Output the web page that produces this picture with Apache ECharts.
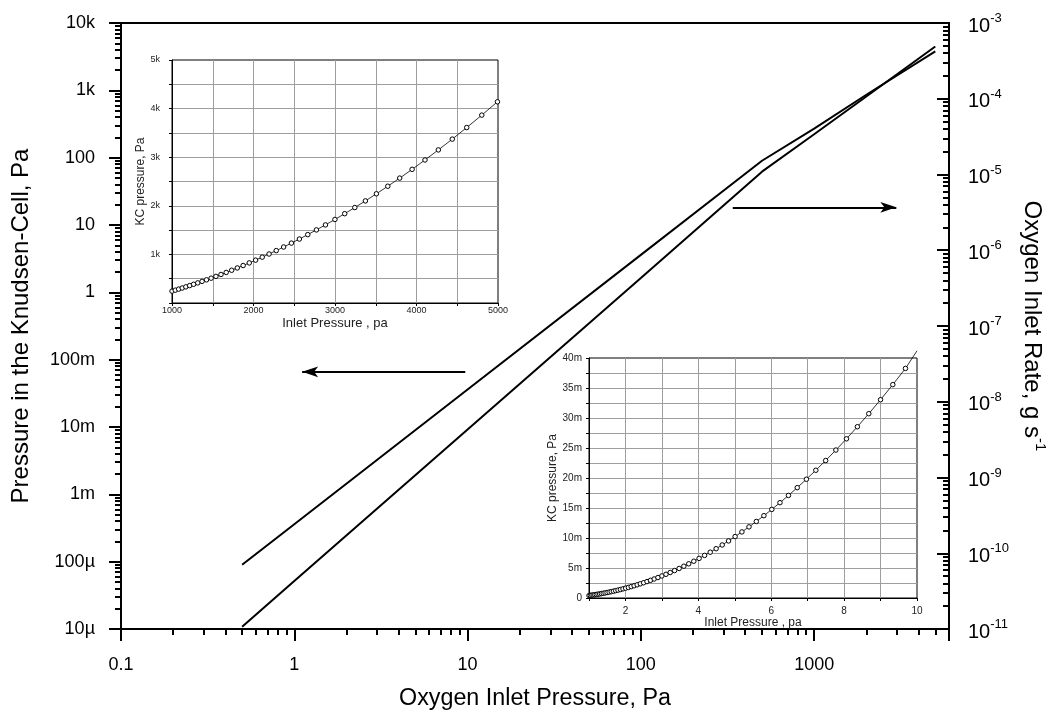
<!DOCTYPE html>
<html><head><meta charset="utf-8">
<script src="https://cdn.jsdelivr.net/npm/echarts@6.0.0/dist/echarts.min.js"></script>
<style>html,body{margin:0;padding:0;background:#fff}#chart{width:1063px;height:715px}</style>
</head><body><div id="chart"></div>
<script>
const FONT = "'Liberation Sans', Arial, Helvetica, sans-serif";

// ---- main chart data (log-log) ----
const mainInletPressure = [0.5, 1, 10, 100, 500, 1000, 2000, 5000];
const mainKcPressure    = [9e-5, 3.6e-4, 0.036, 3.6, 90, 270, 860, 3800];
const mainInletRate     = [1.07e-11, 4.3e-11, 4.3e-9, 4.3e-7, 1.09e-5, 3.4e-5, 1.07e-4, 4.9e-4];

// ---- main tick labels ----
const xTickExponents = [-1, 0, 1, 2, 3];
const xTickLabels = ['0.1', '1', '10', '100', '1000'];
const leftTickExponents = [-5, -4, -3, -2, -1, 0, 1, 2, 3, 4];
const leftTickLabels = ['10µ', '100µ', '1m', '10m', '100m', '1', '10', '100', '1k', '10k'];
const rightTickExponents = [-11, -10, -9, -8, -7, -6, -5, -4, -3];
const rightTickLabels = ['-11', '-10', '-9', '-8', '-7', '-6', '-5', '-4', '-3'];
const minorMultipliers = [2, 3, 4, 5, 6, 7, 8, 9];

// ---- arrows (data coordinates) ----
const leftArrowStart = [9.7, 0.066];
const leftArrowEnd = [1.11, 0.066];
const rightArrowStart = [339, 3.69e-6];
const rightArrowEnd = [2980, 3.69e-6];

// ---- inset 1 (upper left) ----
const inset1InletPressure = [1000,1040,1082,1125,1170,1217,1265,1316,1369,1423,1480,1539,1601,1665,1732,1801,1873,1948,2026,2107,2191,2279,2370,2465,2563,2666,2772,2883,2999,3119,3243,3373,3508,3648,3794,3946,4104,4268,4439,4616,4801,4993];
const inset1KcPressure = [244,264,286,308,332,358,385,414,445,477,511,548,587,629,674,721,771,825,882,943,1008,1078,1152,1232,1316,1407,1504,1607,1719,1838,1964,2101,2247,2403,2570,2750,2943,3150,3372,3610,3866,4140];
const inset1CurveEnd = [5165, 4390];
const inset1XLabelValues = [1000, 2000, 3000, 4000, 5000];
const inset1XLabels = ['1000', '2000', '3000', '4000', '5000'];
const inset1YLabelValues = [1000, 2000, 3000, 4000, 5000];
const inset1YLabels = ['1k', '2k', '3k', '4k', '5k'];

// ---- inset 2 (lower right), KC pressure in mPa ----
const inset2InletPressure = [1.000,1.037,1.076,1.116,1.158,1.201,1.246,1.292,1.340,1.390,1.442,1.496,1.552,1.610,1.670,1.732,1.796,1.864,1.933,2.005,2.080,2.158,2.238,2.322,2.408,2.498,2.591,2.688,2.788,2.892,3.000,3.112,3.228,3.348,3.473,3.603,3.737,3.876,4.021,4.171,4.326,4.488,4.655,4.829,5.009,5.196,5.390,5.591,5.799,6.016,6.240,6.473,6.714,6.965,7.224,7.494,7.774,8.064,8.364,8.677,9.000,9.336,9.684];
const inset2KcMilliPa = [0.408,0.439,0.472,0.508,0.547,0.589,0.633,0.681,0.733,0.788,0.848,0.913,0.983,1.058,1.138,1.224,1.316,1.418,1.524,1.640,1.765,1.900,2.044,2.200,2.366,2.546,2.739,2.948,3.171,3.412,3.672,3.951,4.251,4.573,4.921,5.297,5.698,6.130,6.597,7.098,7.635,8.218,8.841,9.514,10.237,11.015,11.853,12.754,13.720,14.766,15.887,17.095,18.392,19.793,21.292,22.913,24.657,26.531,28.542,30.718,33.048,35.562,38.262];
const inset2CurveEnd = [10, 41.2];
const inset2XLabelValues = [2, 4, 6, 8, 10];
const inset2XLabels = ['2', '4', '6', '8', '10'];
const inset2YLabelValues = [0, 5, 10, 15, 20, 25, 30, 35, 40];
const inset2YLabels = ['0', '5m', '10m', '15m', '20m', '25m', '30m', '35m', '40m'];

// ---- helpers ----
const X_MIN = 0.1, X_MAX = 6000, L_MIN = 1e-5, L_MAX = 1e4, R_MIN = 1e-11, R_MAX = 1e-3;
function decadeLabel(v, exps, labels) {
  const l = Math.log10(v), e = Math.round(l);
  if (Math.abs(l - e) > 1e-6) return '';
  const i = exps.indexOf(e);
  return i < 0 ? '' : labels[i];
}
function minorTicks(lo, hi) {
  const out = [];
  for (let e = Math.floor(lo); e < hi; e++) {
    for (const m of minorMultipliers) {
      const v = e + Math.log10(m);
      if (v > lo + 1e-9 && v < hi - 1e-9) out.push(v);
    }
  }
  return out;
}
function pick(v, vals, labels) {
  for (let i = 0; i < vals.length; i++) if (Math.abs(vals[i] - v) < 1e-9) return labels[i];
  return '';
}
const pairs = (xs, ys) => xs.map((x, i) => [x, ys[i]]);

const black = '#000';
const gridGray = '#9e9e9e';
const mainTick = { show: true, length: 12, lineStyle: { color: black, width: 2 } };
const minorTickStyle = { color: black, width: 2 };
const hidden = { show: false };

const insetAxisCommon = {
  type: 'value',
  axisLine: { onZero: false, lineStyle: { color: black, width: 1 } },
  axisTick: { show: true, length: 3, lineStyle: { color: black, width: 1 } },
  splitLine: { show: true, showMinLine: false, showMaxLine: false, lineStyle: { color: gridGray, width: 1 } },
  nameLocation: 'middle'
};

const chart = echarts.init(document.getElementById('chart'), null, { renderer: 'canvas' });
chart.setOption({
  animation: false,
  backgroundColor: '#fff',
  textStyle: { fontFamily: FONT },
  grid: [
    { left: 121, top: 23, width: 828, height: 606, show: true, borderColor: black, borderWidth: 2, backgroundColor: 'transparent', outerBoundsMode: 'none', containLabel: false },
    { left: 172, top: 60, width: 326, height: 243, show: true, borderColor: black, borderWidth: 1, backgroundColor: '#fff', outerBoundsMode: 'none', containLabel: false },
    { left: 589, top: 358, width: 328, height: 240, show: true, borderColor: black, borderWidth: 1, backgroundColor: '#fff', outerBoundsMode: 'none', containLabel: false }
  ],
  xAxis: [
    { // 0 main log x
      gridIndex: 0, type: 'log', logBase: 10, min: X_MIN, max: X_MAX, splitNumber: 5, position: 'bottom',
      axisLine: { onZero: false, lineStyle: { color: black, width: 2 } },
      axisTick: mainTick,
      minorTick: hidden, splitLine: hidden,
      axisLabel: { fontSize: 18, color: black, fontFamily: FONT, margin: 27, showMinLabel: true, showMaxLabel: true,
        formatter: v => decadeLabel(v, xTickExponents, xTickLabels) },
      name: 'Oxygen Inlet Pressure, Pa', nameLocation: 'middle', nameGap: 58, nameMoveOverlap: false,
      nameTextStyle: { fontSize: 23.3, color: black, fontFamily: FONT }
    },
    { // 1 main minor ticks overlay
      gridIndex: 0, type: 'value', min: -1, max: Math.log10(X_MAX), position: 'bottom',
      axisLine: { show: false, onZero: false }, axisLabel: hidden, splitLine: hidden,
      axisTick: { show: true, length: 6, lineStyle: minorTickStyle, customValues: minorTicks(-1, Math.log10(X_MAX)) }
    },
    Object.assign({}, insetAxisCommon, { // 2 inset1 x
      gridIndex: 1, min: 1000, max: 5000, interval: 500,
      axisLabel: { fontSize: 9, color: '#222', fontFamily: FONT, margin: 3, formatter: v => pick(v, inset1XLabelValues, inset1XLabels) },
      name: 'Inlet Pressure , pa', nameGap: 14, nameTextStyle: { fontSize: 13, color: '#222', fontFamily: FONT }
    }),
    Object.assign({}, insetAxisCommon, { // 3 inset2 x
      gridIndex: 2, min: 1, max: 10, interval: 1,
      axisLabel: { fontSize: 10, color: '#222', fontFamily: FONT, margin: 8, formatter: v => pick(v, inset2XLabelValues, inset2XLabels) },
      name: 'Inlet Pressure , pa', nameGap: 17, nameTextStyle: { fontSize: 12, color: '#222', fontFamily: FONT }
    })
  ],
  yAxis: [
    { // 0 main left log
      gridIndex: 0, type: 'log', logBase: 10, min: L_MIN, max: L_MAX, splitNumber: 9, position: 'left',
      axisLine: { onZero: false, lineStyle: { color: black, width: 2 } },
      axisTick: mainTick, minorTick: hidden, splitLine: hidden,
      axisLabel: { fontSize: 18, color: black, fontFamily: FONT, margin: 26, showMinLabel: true, showMaxLabel: true,
        formatter: v => decadeLabel(v, leftTickExponents, leftTickLabels) },
      name: 'Pressure in the Knudsen-Cell, Pa', nameLocation: 'middle', nameRotate: 90, nameGap: 88,
      nameTextStyle: { fontSize: 24, color: black, fontFamily: FONT }
    },
    { // 1 main right log
      gridIndex: 0, type: 'log', logBase: 10, min: R_MIN, max: R_MAX, splitNumber: 8, position: 'right',
      axisLine: { onZero: false, lineStyle: { color: black, width: 2 } },
      axisTick: { show: true, inside: true, length: 12, lineStyle: { color: black, width: 2 } },
      minorTick: hidden, splitLine: hidden,
      axisLabel: { margin: 19, showMinLabel: true, showMaxLabel: true,
        formatter: v => { const s = decadeLabel(v, rightTickExponents, rightTickLabels); return s ? '{b|10}{s|' + s + '}' : ''; },
        rich: {
          b: { fontSize: 20, color: black, fontFamily: FONT, lineHeight: 22, padding: [6, 0, 0, 0] },
          s: { fontSize: 13, color: black, fontFamily: FONT, lineHeight: 12, verticalAlign: 'top' }
        } },
      name: '{n|Oxygen Inlet Rate, g s}{s|-1}', nameLocation: 'middle', nameRotate: -90, nameGap: 72,
      nameTextStyle: { rich: {
        n: { fontSize: 24, color: black, fontFamily: FONT, lineHeight: 26, padding: [6, 0, 0, 0] },
        s: { fontSize: 15, color: black, fontFamily: FONT, lineHeight: 14, verticalAlign: 'top' }
      } }
    },
    { // 2 left minor overlay
      gridIndex: 0, type: 'value', min: Math.log10(L_MIN), max: Math.log10(L_MAX), position: 'left',
      axisLine: { show: false, onZero: false }, axisLabel: hidden, splitLine: hidden,
      axisTick: { show: true, length: 6, lineStyle: minorTickStyle, customValues: minorTicks(Math.log10(L_MIN), Math.log10(L_MAX)) }
    },
    { // 3 right minor overlay
      gridIndex: 0, type: 'value', min: Math.log10(R_MIN), max: Math.log10(R_MAX), position: 'right',
      axisLine: { show: false, onZero: false }, axisLabel: hidden, splitLine: hidden,
      axisTick: { show: true, inside: true, length: 6, lineStyle: minorTickStyle, customValues: minorTicks(Math.log10(R_MIN), Math.log10(R_MAX)) }
    },
    Object.assign({}, insetAxisCommon, { // 4 inset1 y
      gridIndex: 1, min: 0, max: 5000, interval: 500,
      axisLabel: { fontSize: 9, color: '#222', fontFamily: FONT, margin: 12, formatter: v => pick(v, inset1YLabelValues, inset1YLabels) },
      name: 'KC pressure, Pa', nameRotate: 90, nameGap: 22, nameTextStyle: { fontSize: 12, color: '#222', fontFamily: FONT }
    }),
    Object.assign({}, insetAxisCommon, { // 5 inset2 y
      gridIndex: 2, min: 0, max: 40, interval: 2.5,
      axisLabel: { fontSize: 10, color: '#222', fontFamily: FONT, margin: 7, formatter: v => pick(v, inset2YLabelValues, inset2YLabels) },
      name: 'KC pressure, Pa', nameRotate: 90, nameGap: 30, nameTextStyle: { fontSize: 12, color: '#222', fontFamily: FONT }
    })
  ],
  series: [
    {
      name: 'KC pressure', type: 'line', xAxisIndex: 0, yAxisIndex: 0,
      data: pairs(mainInletPressure, mainKcPressure),
      symbol: 'none', showSymbol: false, lineStyle: { color: black, width: 2 }, silent: true,
      markLine: {
        silent: true, symbol: ['none', 'arrow'], symbolSize: [8, 16], label: { show: false },
        lineStyle: { color: black, width: 2, type: 'solid' },
        data: [[{ coord: leftArrowStart }, { coord: leftArrowEnd }]]
      }
    },
    {
      name: 'Inlet rate', type: 'line', xAxisIndex: 0, yAxisIndex: 1,
      data: pairs(mainInletPressure, mainInletRate),
      symbol: 'none', showSymbol: false, lineStyle: { color: black, width: 2 }, silent: true,
      markLine: {
        silent: true, symbol: ['none', 'arrow'], symbolSize: [8, 16], label: { show: false },
        lineStyle: { color: black, width: 2, type: 'solid' },
        data: [[{ coord: rightArrowStart }, { coord: rightArrowEnd }]]
      }
    },
    {
      name: 'inset1', type: 'line', xAxisIndex: 2, yAxisIndex: 4, clip: false, z: 5, silent: true,
      data: pairs(inset1InletPressure, inset1KcPressure).concat([{ value: inset1CurveEnd, symbol: 'none' }]),
      symbol: 'circle', symbolSize: 4.5, showSymbol: true,
      itemStyle: { color: '#fff', borderColor: black, borderWidth: 1 },
      lineStyle: { color: black, width: 0.8 }
    },
    {
      name: 'inset2', type: 'line', xAxisIndex: 3, yAxisIndex: 5, clip: false, z: 5, silent: true,
      data: pairs(inset2InletPressure, inset2KcMilliPa).concat([{ value: inset2CurveEnd, symbol: 'none' }]),
      symbol: 'circle', symbolSize: 4.5, showSymbol: true,
      itemStyle: { color: '#fff', borderColor: black, borderWidth: 1 },
      lineStyle: { color: black, width: 0.8 }
    }
  ]
});
</script></body></html>
